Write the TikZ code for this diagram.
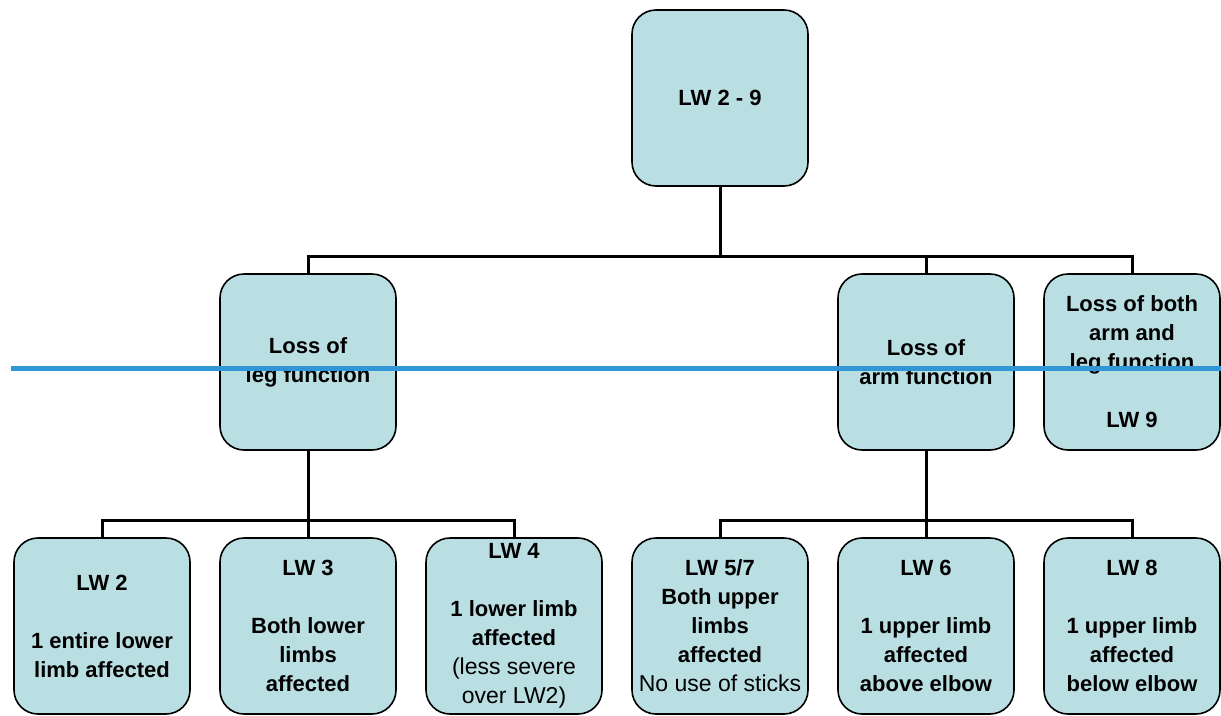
\documentclass[tikz,border=0pt]{standalone}
\usepackage{fontspec}
\setmainfont{Liberation Sans}
\definecolor{boxfill}{RGB}{186,223,227}
\definecolor{cursorblue}{RGB}{48,150,214}
\newcommand{\regtext}{\mdseries\fontsize{23}{29}\selectfont}
\begin{document}
\begin{tikzpicture}[x=1pt,y=-1pt,
  box/.style={draw=black, line width=1.6pt, fill=boxfill, rounded corners=24pt,
    minimum width=176pt, minimum height=176pt, inner sep=0pt, align=center,
    font=\fontsize{22}{29}\selectfont\bfseries},
  conn/.style={draw=black, line width=3pt}]
\useasboundingbox (0,0) rectangle (1221,715);
% nodes
\node[box] (top) at (720,98) {LW 2 - 9};
\node[box] (leg) at (308,362) {Loss of\\leg function};
\node[box] (arm) at (926,362) {Loss of\\arm function};
\node[box] (lw9) at (1132,362) {Loss of both\\arm and\\leg function\\[29pt]LW 9};
\node[box] (lw2) at (102,626) {LW 2\\[29pt]1 entire lower\\limb affected};
\node[box] (lw3) at (308,626) {LW 3\\[29pt]Both lower\\limbs\\affected};
\node[box] (lw4) at (514,626) {LW 4\\[29pt]1 lower limb\\affected\\\regtext(less severe\\\regtext over LW2)};
\node[box] (lw57) at (720,626) {LW 5/7\\Both upper\\limbs\\affected\\\regtext No use of sticks};
\node[box] (lw6) at (926,626) {LW 6\\[29pt]1 upper limb\\affected\\above elbow};
\node[box] (lw8) at (1132,626) {LW 8\\[29pt]1 upper limb\\affected\\below elbow};
% connectors
\coordinate (busA) at (720,256);
\coordinate (busB) at (308,520);
\coordinate (busC) at (926,520);
\draw[conn] (top.south) -- (busA);
\draw[conn] (leg.north) |- (lw9.north |- busA) -- (lw9.north);
\draw[conn] (arm.north) -- (arm.north |- busA);
\draw[conn] (leg.south) -- (busB);
\draw[conn] (lw2.north) |- (lw4.north |- busB) -- (lw4.north);
\draw[conn] (lw3.north) -- (lw3.north |- busB);
\draw[conn] (arm.south) -- (busC);
\draw[conn] (lw57.north) |- (lw8.north |- busC) -- (lw8.north);
\draw[conn] (lw6.north) -- (lw6.north |- busC);
% overlay line
\coordinate (cl) at (11,368.5);
\coordinate (cr) at (1221,368.5);
\draw[cursorblue, line width=4.5pt] (cl) -- (cr);
\end{tikzpicture}
\end{document}
